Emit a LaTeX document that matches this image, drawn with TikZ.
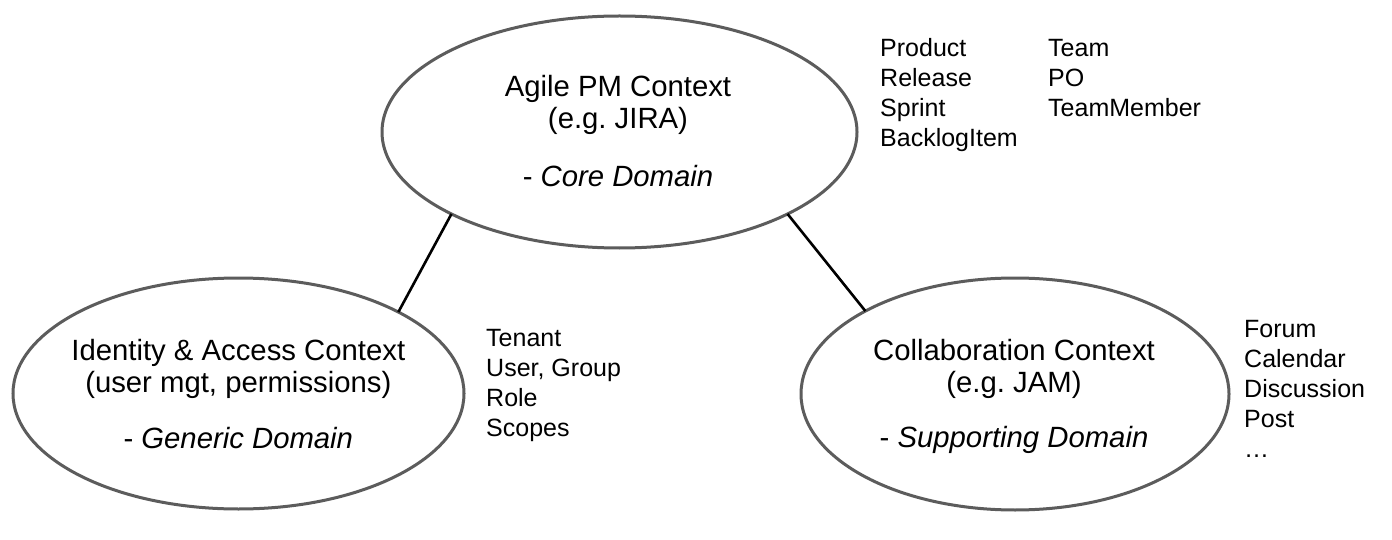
\documentclass[tikz,border=0pt]{standalone}
\usepackage{fontspec}
\setmainfont{Liberation Sans}
\usetikzlibrary{shapes.geometric}
\definecolor{edgegray}{RGB}{92,92,92}
\tikzset{
  ctx/.style={ellipse, draw=edgegray, line width=3pt, inner sep=0pt, outer sep=0pt},
  ctxtext/.style={anchor=base, inner sep=0pt, font=\frenchspacing\fontsize{29.3}{31.5}\selectfont},
  item/.style={anchor=base west, inner sep=0pt, font=\fontsize{25}{30}\selectfont},
  conn/.style={draw=black, line width=2.6pt}
}
\begin{document}
\begin{tikzpicture}[x=1pt,y=-1pt]
\useasboundingbox (0,0) rectangle (1392,540);
\fill[white] (0,0) rectangle (1392,540);
% contexts
\node[ctx, minimum width=475pt, minimum height=232pt] (agile) at (619.5,132) {};
\node[ctx, minimum width=451pt, minimum height=231pt] (iam) at (238.5,393.5) {};
\node[ctx, minimum width=428pt, minimum height=232pt] (collab) at (1015,394) {};
% texts
\node[ctxtext] (agileA) at (618,97) {Agile PM Context};
\node[ctxtext] (agileB) at (618,129) {(e.g. JIRA)};
\node[ctxtext] (agileC) at (618,186.5) {- \textit{Core Domain}};
\node[ctxtext] (iamA) at (238.3,360.5) {Identity \& Access Context};
\node[ctxtext] (iamB) at (238.3,392.5) {(user mgt, permissions)};
\node[ctxtext] (iamC) at (238.3,448) {- \textit{Generic Domain}};
\node[ctxtext] (collabA) at (1014,360.5) {Collaboration Context};
\node[ctxtext] (collabB) at (1014,392.5) {(e.g. JAM)};
\node[ctxtext] (collabC) at (1014,447.5) {- \textit{Supporting Domain}};
% connectors
\draw[conn] (agile.206) -- (iam.27.1);
\draw[conn] (agile.334) -- (collab.151.5);
% lists
\foreach \t [count=\i] in {Product, Release, Sprint, BacklogItem}
  \node[item] (agl\i) at ({880},{57+30*(\i-1)}) {\t};
\foreach \t [count=\i] in {Team, PO, TeamMember}
  \node[item] (agr\i) at ({1048},{57+30*(\i-1)}) {\t};
\foreach \t [count=\i] in {Tenant, {User, Group}, Role, Scopes}
  \node[item] (iaml\i) at ({486},{346.5+30*(\i-1)}) {\t};
\foreach \t [count=\i] in {Forum, Calendar, Discussion, Post, …}
  \node[item] (coll\i) at ({1244},{337.5+30*(\i-1)}) {\t};
\end{tikzpicture}
\end{document}
